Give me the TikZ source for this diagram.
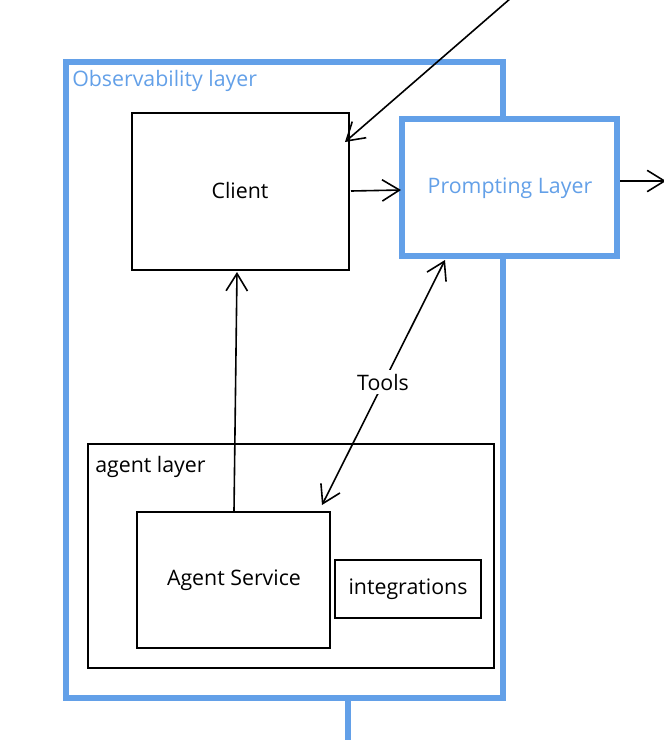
\documentclass[tikz,border=0pt]{standalone}
\usepackage{fontspec}
\setmainfont{Open Sans}
\usetikzlibrary{arrows.meta}
\definecolor{exblue}{RGB}{99,160,232}
\tikzset{
  thinbox/.style={draw=black, line width=1.1pt, inner sep=0pt},
  bluebox/.style={draw=exblue, line width=3.8pt, inner sep=0pt},
  conn/.style={draw=black, line width=1.2pt, -{Straight Barb[length=13pt,width=16pt,line width=1.2pt]}},
  biconn/.style={draw=black, line width=1.2pt, {Straight Barb[length=13pt,width=16pt,line width=1.2pt]}-{Straight Barb[length=13pt,width=16pt,line width=1.2pt]}},
  lbl/.style={font=\fontsize{16pt}{19pt}\selectfont, inner sep=0pt},
  bluelbl/.style={lbl, text=exblue},
}
\begin{document}
\begin{tikzpicture}[x=0.75pt,y=-0.75pt]
\useasboundingbox (0,0) rectangle (664,740);
% outer observability box
\draw[bluebox] (66,62) rectangle (503,698);
\node[bluelbl, anchor=west] (obslbl) at (72,81) {Observability layer};
% blue line downward
\coordinate (obsbottom) at (348,698);
\coordinate (pagebottom) at (348,740);
\draw[exblue, line width=3.8pt] (obsbottom) -- (pagebottom);
% client
\node[thinbox, minimum width=217*0.75pt, minimum height=157*0.75pt] (client) at (240.5,191.5) {};
\node[lbl] (clientlbl) at (240,190) {Client};
% prompting layer
\node[bluebox, fill=white, minimum width=215*0.75pt, minimum height=137*0.75pt] (prompt) at (509.5,187.5) {};
\node[bluelbl] (promptlbl) at (510,188) {Prompting Layer};
% agent layer
\node[thinbox, minimum width=406*0.75pt, minimum height=224*0.75pt] (agentlayer) at (291,556) {};
\node[lbl, anchor=west] (agentlbl) at (95,467) {agent layer};
% agent service
\node[thinbox, minimum width=193*0.75pt, minimum height=136*0.75pt] (agent) at (233.5,580) {};
\node[lbl] (agentsvclbl) at (234,580) {Agent Service};
% integrations
\node[thinbox, minimum width=146*0.75pt, minimum height=58*0.75pt] (integ) at (408,589) {};
\node[lbl] (integlbl) at (408,589) {integrations};
% connectors
\coordinate (topin) at (511,-2);
\coordinate (clientTR) at (345,142);
\draw[conn] (topin) -- (clientTR);
\coordinate (clientR) at (351,191);
\coordinate (promptL) at (401,190);
\draw[conn] (clientR) -- (promptL);
\coordinate (promptR) at (620,181);
\coordinate (rightout) at (666,181);
\draw[conn] (promptR) -- (rightout);
\coordinate (agentTop) at (234,511);
\coordinate (clientBot) at (237,272);
\draw[conn] (agentTop) -- (clientBot);
\coordinate (promptB) at (445,260);
\coordinate (agentTR) at (322,505);
\draw[biconn] (promptB) -- (agentTR);
\node[lbl, fill=white, inner sep=3pt] (tools) at (383,382) {Tools};
\end{tikzpicture}
\end{document}
